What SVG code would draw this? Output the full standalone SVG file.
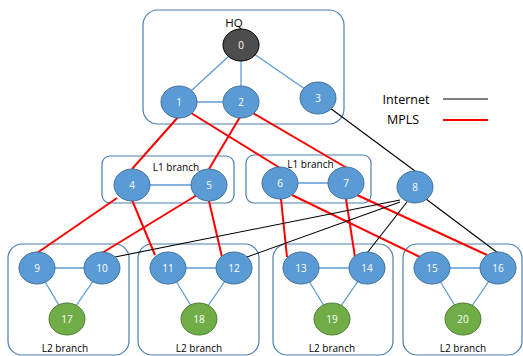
<svg xmlns="http://www.w3.org/2000/svg" width="523" height="356" viewBox="0 0 523 356">
<style>
.box{fill:none;stroke:#4a7eb0;stroke-width:1.2}
.n{fill:#5b9bd5;stroke:#41719c;stroke-width:1}
.g{fill:#70ad47;stroke:#507e32;stroke-width:1}
.k{fill:#4d4d4d;stroke:#000;stroke-width:1}
.nt{font-family:"Open Sans","Liberation Sans",sans-serif;font-size:10px;fill:#fff;text-anchor:middle;dominant-baseline:central}
.lb{font-family:"Open Sans","Liberation Sans",sans-serif;font-size:10px;fill:#000;text-anchor:middle}
.lg{font-family:"Open Sans","Liberation Sans",sans-serif;font-size:12.5px;fill:#000;text-anchor:middle}
.b{stroke:#5b9bd5;stroke-width:1.3;fill:none}
.r{stroke:#ff0000;stroke-width:2;fill:none}
.i{stroke:#000;stroke-width:1.1;fill:none}
</style>
<g id="boxes">
<rect class="box" x="143" y="10" width="201" height="114" rx="15"/>
<text class="lb" x="234" y="27" style="font-size:11.5px">HQ</text>
<rect class="box" x="102" y="156" width="132" height="47" rx="8"/>
<text class="lb" x="176" y="171">L1 branch</text>
<rect class="box" x="246" y="155" width="125" height="48" rx="8"/>
<text class="lb" x="310.5" y="168">L1 branch</text>
<rect class="box" x="8" y="244" width="121" height="111" rx="14"/>
<text class="lb" x="65" y="352">L2 branch</text>
<rect class="box" x="138" y="244" width="121" height="111" rx="14"/>
<text class="lb" x="199" y="352">L2 branch</text>
<rect class="box" x="273" y="244" width="120" height="111" rx="14"/>
<text class="lb" x="332" y="352">L2 branch</text>
<rect class="box" x="403" y="244" width="119" height="111" rx="14"/>
<text class="lb" x="463" y="352">L2 branch</text>
</g>
<g id="legend">
<text class="lg" x="406" y="104">Internet</text>
<line class="i" x1="443" y1="99" x2="488" y2="99" stroke-width="1.5"/>
<text class="lg" x="403" y="124">MPLS</text>
<line class="r" x1="443" y1="120" x2="488" y2="120"/>
</g>
<g id="connectors">
<line class="b" x1="241" y1="45" x2="179" y2="102"/>
<line class="b" x1="241" y1="45" x2="241" y2="102"/>
<line class="b" x1="241" y1="45" x2="318" y2="98"/>
<line class="b" x1="179" y1="102" x2="241" y2="102"/>
<line class="b" x1="132" y1="185" x2="209" y2="185"/>
<line class="b" x1="280" y1="183" x2="346" y2="183"/>
<line class="b" x1="37" y1="268" x2="102" y2="268"/>
<line class="b" x1="37" y1="268" x2="67" y2="319"/>
<line class="b" x1="102" y1="268" x2="67" y2="319"/>
<line class="b" x1="168" y1="268" x2="234" y2="268"/>
<line class="b" x1="168" y1="268" x2="199" y2="319"/>
<line class="b" x1="234" y1="268" x2="199" y2="319"/>
<line class="b" x1="301" y1="268" x2="367" y2="268"/>
<line class="b" x1="301" y1="268" x2="332" y2="319"/>
<line class="b" x1="367" y1="268" x2="332" y2="319"/>
<line class="b" x1="432" y1="268" x2="498" y2="268"/>
<line class="b" x1="432" y1="268" x2="463" y2="319"/>
<line class="b" x1="498" y1="268" x2="463" y2="319"/>
<line class="r" x1="179" y1="116" x2="132" y2="169"/>
<line class="r" x1="191" y1="113" x2="280" y2="168"/>
<line class="r" x1="240" y1="117" x2="209" y2="169"/>
<line class="r" x1="253" y1="113" x2="347" y2="168"/>
<line class="r" x1="117" y1="198" x2="37" y2="253"/>
<line class="r" x1="132" y1="200" x2="155" y2="255"/>
<line class="r" x1="197" y1="195" x2="102" y2="253"/>
<line class="r" x1="209" y1="201" x2="222" y2="257"/>
<line class="r" x1="281" y1="199" x2="287" y2="257"/>
<line class="r" x1="292" y1="195" x2="420" y2="257"/>
<line class="r" x1="346" y1="199" x2="355" y2="257"/>
<line class="r" x1="357" y1="195" x2="487" y2="255"/>
<line class="i" x1="330" y1="108" x2="415" y2="171"/>
<line class="i" x1="400" y1="200" x2="115" y2="257"/>
<line class="i" x1="400" y1="202" x2="247" y2="257"/>
<line class="i" x1="407" y1="202" x2="367" y2="253"/>
<line class="i" x1="426" y1="199" x2="498" y2="253"/>
</g>
<g id="n0"><ellipse class="k" cx="241" cy="45" rx="18" ry="16"/><text class="nt" x="241" y="45">0</text></g>
<g id="n1"><ellipse class="n" cx="179" cy="102" rx="18" ry="16"/><text class="nt" x="179" y="102">1</text></g>
<g id="n2"><ellipse class="n" cx="241" cy="102" rx="18" ry="16"/><text class="nt" x="241" y="102">2</text></g>
<g id="n3"><ellipse class="n" cx="318" cy="98" rx="18" ry="16"/><text class="nt" x="318" y="98">3</text></g>
<g id="n4"><ellipse class="n" cx="132" cy="185" rx="18" ry="16"/><text class="nt" x="132" y="185">4</text></g>
<g id="n5"><ellipse class="n" cx="209" cy="185" rx="18" ry="16"/><text class="nt" x="209" y="185">5</text></g>
<g id="n6"><ellipse class="n" cx="280" cy="183" rx="18" ry="16"/><text class="nt" x="280" y="183">6</text></g>
<g id="n7"><ellipse class="n" cx="346" cy="183" rx="18" ry="16"/><text class="nt" x="346" y="183">7</text></g>
<g id="n8"><ellipse class="n" cx="415" cy="187" rx="18" ry="16"/><text class="nt" x="415" y="187">8</text></g>
<g id="n9"><ellipse class="n" cx="37" cy="268" rx="18" ry="16"/><text class="nt" x="37" y="268">9</text></g>
<g id="n10"><ellipse class="n" cx="102" cy="268" rx="18" ry="16"/><text class="nt" x="102" y="268">10</text></g>
<g id="n11"><ellipse class="n" cx="168" cy="268" rx="18" ry="16"/><text class="nt" x="168" y="268">11</text></g>
<g id="n12"><ellipse class="n" cx="234" cy="268" rx="18" ry="16"/><text class="nt" x="234" y="268">12</text></g>
<g id="n13"><ellipse class="n" cx="301" cy="268" rx="18" ry="16"/><text class="nt" x="301" y="268">13</text></g>
<g id="n14"><ellipse class="n" cx="367" cy="268" rx="18" ry="16"/><text class="nt" x="367" y="268">14</text></g>
<g id="n15"><ellipse class="n" cx="432" cy="268" rx="18" ry="16"/><text class="nt" x="432" y="268">15</text></g>
<g id="n16"><ellipse class="n" cx="498" cy="268" rx="18" ry="16"/><text class="nt" x="498" y="268">16</text></g>
<g id="n17"><ellipse class="g" cx="67" cy="319" rx="18" ry="16"/><text class="nt" x="67" y="319">17</text></g>
<g id="n18"><ellipse class="g" cx="199" cy="319" rx="18" ry="16"/><text class="nt" x="199" y="319">18</text></g>
<g id="n19"><ellipse class="g" cx="332" cy="319" rx="18" ry="16"/><text class="nt" x="332" y="319">19</text></g>
<g id="n20"><ellipse class="g" cx="463" cy="319" rx="18" ry="16"/><text class="nt" x="463" y="319">20</text></g>
</svg>
